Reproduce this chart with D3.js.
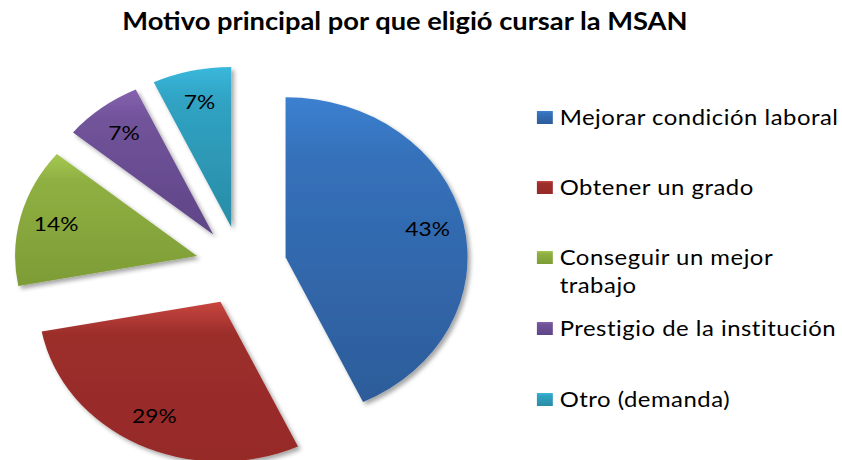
<!DOCTYPE html>
<html>
<head>
<meta charset="utf-8">
<script src="https://cdn.jsdelivr.net/npm/d3@7.9.0/dist/d3.min.js"></script>
<style>
  html, body { margin: 0; padding: 0; background: #fff; }
  svg { display: block; }
</style>
</head>
<body>
<svg id="chart" width="842" height="460"></svg>
<script>
const categories = ['Mejorar condición laboral', 'Obtener un grado', 'Conseguir un mejor trabajo', 'Prestigio de la institución', 'Otro (demanda)'];
const values = [43, 29, 14, 7, 7];
const labels = ['43%', '29%', '14%', '7%', '7%'];
const legendLines = [['Mejorar condición laboral'], ['Obtener un grado'], ['Conseguir un mejor', 'trabajo'], ['Prestigio de la institución'], ['Otro (demanda)']];
const colorsTop = ['#3c80d0', '#c8463f', '#a5c851', '#8562ae', '#3ab8dc'];
const colorsMid = ['#3571ba', '#9c2e2b', '#8fb042', '#71539a', '#30a3c4'];
const colorsBottom = ['#2d5c9a', '#962a28', '#7d9c36', '#5f4587', '#2a8ca6'];

// the original picture is stretched horizontally
const sx = 1.1375;
const cx = 212, cy = 266, R = 160, explode = 40;

const svg = d3.select('#chart');
const defs = svg.append('defs');

categories.forEach((c, i) => {
  const g = defs.append('linearGradient')
    .attr('id', 'grad' + i)
    .attr('x1', 0).attr('y1', 0).attr('x2', 0).attr('y2', 1);
  g.append('stop').attr('offset', '0%').attr('stop-color', colorsTop[i]);
  g.append('stop').attr('offset', '20%').attr('stop-color', colorsMid[i]);
  g.append('stop').attr('offset', '100%').attr('stop-color', colorsBottom[i]);
});

const shadow = defs.append('filter').attr('id', 'shadow')
  .attr('x', '-10%').attr('y', '-10%').attr('width', '130%').attr('height', '130%');
shadow.append('feDropShadow')
  .attr('dx', 2.5).attr('dy', 3).attr('stdDeviation', 2)
  .attr('flood-color', '#000').attr('flood-opacity', 0.35);

const root = svg.append('g').attr('transform', `scale(${sx},1)`);

// title
root.append('text')
  .attr('x', 356).attr('y', 30)
  .attr('text-anchor', 'middle')
  .attr('font-family', 'Lato, sans-serif')
  .attr('font-weight', 'bold')
  .attr('font-size', 24)
  .text('Motivo principal por que eligió cursar la MSAN');

const pie = d3.pie().value((d) => d).sort(null);
const arcData = pie(values);
const arcGen = d3.arc().innerRadius(0).outerRadius(R);
const labelArc = d3.arc().innerRadius(128).outerRadius(128);

const slices = root.append('g').attr('transform', `translate(${cx},${cy})`);

arcData.forEach((d, i) => {
  const mid = (d.startAngle + d.endAngle) / 2;
  const ox = explode * Math.sin(mid);
  const oy = -explode * Math.cos(mid);
  const g = slices.append('g').attr('transform', `translate(${ox},${oy})`);
  g.append('path')
    .attr('d', arcGen(d))
    .attr('fill', `url(#grad${i})`)
    .attr('filter', 'url(#shadow)');
  const [lx, ly] = labelArc.centroid(d);
  g.append('text')
    .attr('x', lx).attr('y', ly)
    .attr('dy', '0.35em')
    .attr('text-anchor', 'middle')
    .attr('font-family', 'Lato, sans-serif')
    .attr('font-size', 20)
    .attr('fill', '#000')
    .text(labels[i]);
});

// legend
const legendY = [125, 195, 265, 336, 407];
const legend = root.append('g');
legendLines.forEach((lines, i) => {
  legend.append('rect')
    .attr('x', 472).attr('y', legendY[i] - 14)
    .attr('width', 14).attr('height', 13)
    .attr('fill', `url(#grad${i})`);
  const t = legend.append('text')
    .attr('x', 492).attr('y', legendY[i])
    .attr('font-family', 'Lato, sans-serif')
    .attr('font-size', 21)
    .attr('letter-spacing', 0.45)
    .attr('fill', '#000');
  lines.forEach((line, j) => {
    t.append('tspan').attr('x', 492).attr('dy', j === 0 ? 0 : 28).text(line);
  });
});
</script>
</body>
</html>
